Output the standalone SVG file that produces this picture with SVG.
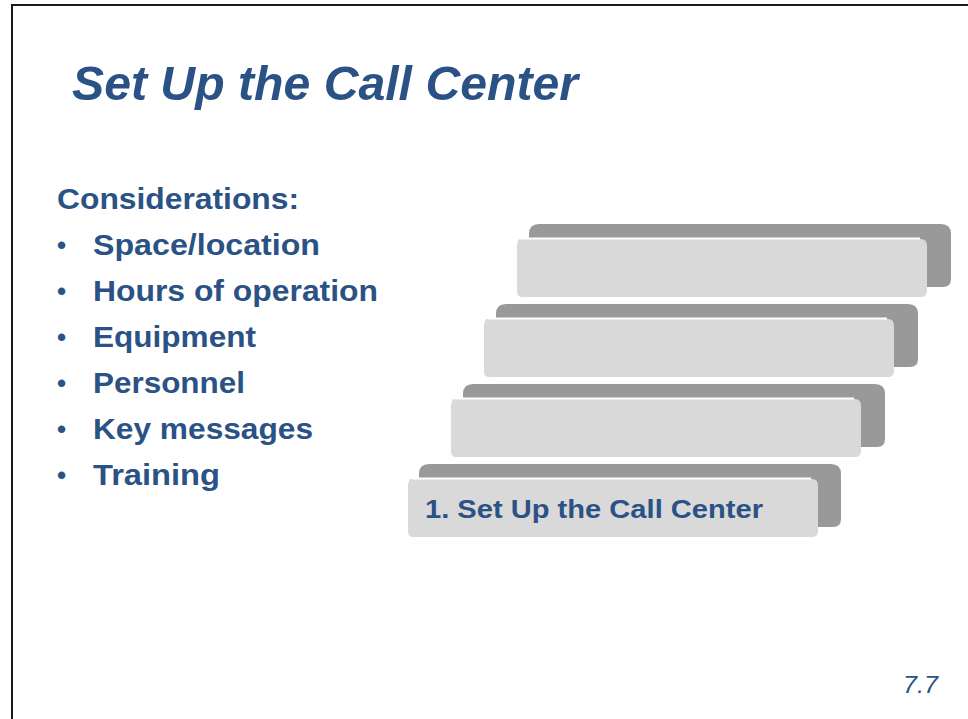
<svg xmlns="http://www.w3.org/2000/svg" xmlns:xlink="http://www.w3.org/1999/xlink" width="968" height="719" viewBox="0 0 968 719">
  <style>
    .txt { font-family: "Liberation Sans", Arial, sans-serif; fill: #2B5285; }
    .title { font-size: 48px; font-weight: bold; font-style: italic; }
    .list { font-size: 29px; font-weight: bold; }
    .bul { font-size: 26px; font-weight: bold; }
    .step { font-size: 26px; font-weight: bold; }
    .pg { font-size: 23px; font-style: italic; }
    .dark { fill: #999999; }
    .light { fill: #D9D9D9; }
    .hl { fill: none; stroke: #FFFFFF; stroke-width: 2; }
  </style>
  <defs>
    <path id="darkbar" class="dark" d="M10,0 H412 Q422,0 422,10 V55 Q422,63 414,63 H0 V10 Q0,0 10,0 Z"/>
    <g id="lightbar">
      <path class="light" d="M3,0 H404 Q410,0 410,7 V52 Q410,58 404,58 H5 Q0,58 0,52 V6 Q0,0 3,0 Z"/>
      <path class="hl" d="M4,-0.5 H403"/>
      <path d="M1,4 Q-1,1 2,-0.5" fill="none" stroke="#FFFFFF" stroke-width="1"/>
    </g>
  </defs>

  <rect x="12" y="5" width="970" height="730" fill="#FFFFFF" stroke="#1A1A1A" stroke-width="2"/>

  <g id="title">
    <text class="txt title" x="72" y="100" textLength="506" lengthAdjust="spacingAndGlyphs">Set Up the Call Center</text>
  </g>

  <g id="considerations">
    <text class="txt list" x="57" y="209" textLength="242" lengthAdjust="spacingAndGlyphs">Considerations:</text>
    <text class="txt bul" x="57" y="254">•</text>
    <text class="txt list" x="93" y="255" textLength="227" lengthAdjust="spacingAndGlyphs">Space/location</text>
    <text class="txt bul" x="57" y="300">•</text>
    <text class="txt list" x="93" y="301" textLength="285" lengthAdjust="spacingAndGlyphs">Hours of operation</text>
    <text class="txt bul" x="57" y="346">•</text>
    <text class="txt list" x="93" y="347" textLength="163" lengthAdjust="spacingAndGlyphs">Equipment</text>
    <text class="txt bul" x="57" y="392">•</text>
    <text class="txt list" x="93" y="393" textLength="152" lengthAdjust="spacingAndGlyphs">Personnel</text>
    <text class="txt bul" x="57" y="438">•</text>
    <text class="txt list" x="93" y="439" textLength="220" lengthAdjust="spacingAndGlyphs">Key messages</text>
    <text class="txt bul" x="57" y="484">•</text>
    <text class="txt list" x="93" y="485" textLength="127" lengthAdjust="spacingAndGlyphs">Training</text>
  </g>

  <g id="step4">
    <use xlink:href="#darkbar" transform="translate(529,224)"/>
    <use xlink:href="#lightbar" transform="translate(517,239)"/>
  </g>
  <g id="step3">
    <use xlink:href="#darkbar" transform="translate(496,304)"/>
    <use xlink:href="#lightbar" transform="translate(484,319)"/>
  </g>
  <g id="step2">
    <use xlink:href="#darkbar" transform="translate(463,384)"/>
    <use xlink:href="#lightbar" transform="translate(451,399)"/>
  </g>
  <g id="step1">
    <use xlink:href="#darkbar" transform="translate(419,464)"/>
    <use xlink:href="#lightbar" transform="translate(408,479)"/>
    <text class="txt step" x="425" y="518" textLength="338" lengthAdjust="spacingAndGlyphs">1. Set Up the Call Center</text>
  </g>

  <g id="connectors"></g>

  <g id="page-number">
    <text class="txt pg" x="903" y="693" textLength="35" lengthAdjust="spacingAndGlyphs">7.7</text>
  </g>
</svg>
